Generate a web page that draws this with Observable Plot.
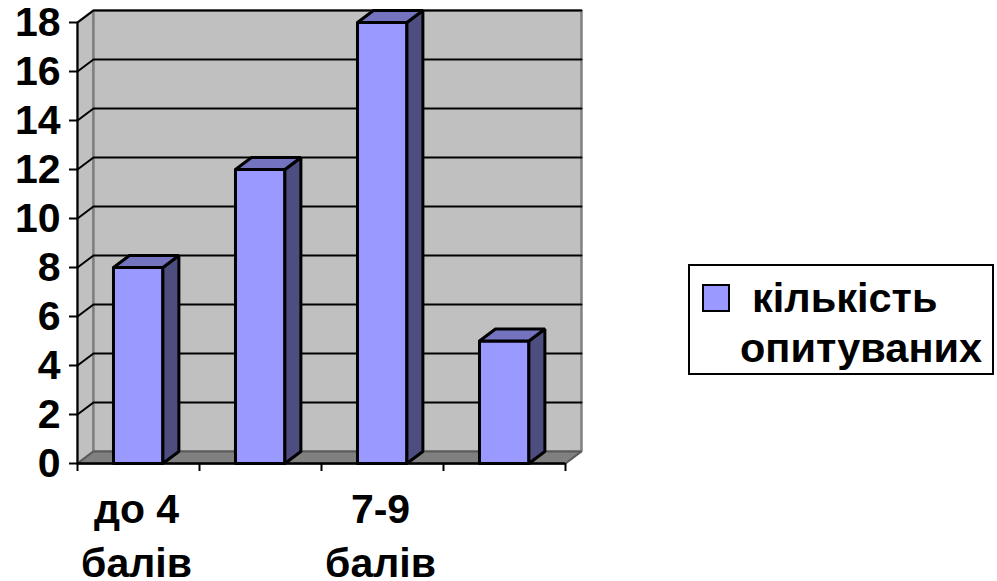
<!DOCTYPE html>
<html><head><meta charset="utf-8">
<script src="https://cdn.jsdelivr.net/npm/d3@7"></script>
<script src="https://cdn.jsdelivr.net/npm/@observablehq/plot@0.6"></script>
<style>
html,body{margin:0;padding:0;background:#fff;overflow:hidden}
#wrap{position:relative;width:997px;height:581px;font-family:"Liberation Sans",Arial,sans-serif}
#legend{position:absolute;left:688px;top:264px;width:302px;height:107px;border:2px solid #000;background:#fff;box-sizing:content-box;font-weight:700;font-size:41.5px;color:#000}
#legend i{position:absolute;left:12px;top:18px;width:24px;height:24px;background:#9999FF;border:2px solid #000}
#legend span{position:absolute;line-height:40px;white-space:nowrap}
svg{display:block}
</style></head><body>
<div id="wrap"><div id="chart"></div>
<div id="legend"><i></i><span style="left:62px;top:12px">кількість</span><span style="left:50px;top:62px">опитуваних</span></div></div>
<script>
const categories = ["до 4\nбалів", "", "7-9\nбалів", ""];
const values = [8, 12, 18, 5];
const yTicks = [0, 2, 4, 6, 8, 10, 12, 14, 16, 18];
const xEdges = [0, 1, 2, 3, 4];
const yMax = 18;
const depthX = 0.131, depthY = 0.49, barOffset = 0.295, barWidth = 0.405;

const poly = (id, pts) => pts.concat([pts[0]]).map(([x, y]) => ({id, x, y}));
const leftWall = poly("l", [[0,0],[depthX,depthY],[depthX,yMax+depthY],[0,yMax]]);
const backWall = poly("b", [[depthX,depthY],[4+depthX,depthY],[4+depthX,yMax+depthY],[depthX,yMax+depthY]]);
const floor = poly("f", [[0,0],[4,0],[4+depthX,depthY],[depthX,depthY]]);
const grid = yTicks.filter(v => v > 0).flatMap(v => [
  {id:v, x:0, y:v}, {id:v, x:depthX, y:v+depthY}, {id:v, x:4+depthX, y:v+depthY}]);

const fronts = [], sides = [], tops = [];
values.forEach((v, i) => {
  const a = i + barOffset, b = a + barWidth;
  fronts.push(...poly("a"+i, [[a,0],[b,0],[b,v],[a,v]]));
  sides.push(...poly("s"+i, [[b,0],[b+depthX,depthY],[b+depthX,v+depthY],[b,v]]));
  tops.push(...poly("t"+i, [[a,v],[b,v],[b+depthX,v+depthY],[a+depthX,v+depthY]]));
});
const face = (d, fill, stroke, strokeWidth) => Plot.line(d, {x:"x", y:"y", z:"id", fill, stroke, strokeWidth, strokeLinejoin:"miter", curve:"linear"});

const chart = Plot.plot({
  width: 997, height: 581,
  marginLeft: 77, marginRight: 432, marginTop: 22, marginBottom: 118,
  style: {fontFamily: '"Liberation Sans",Arial,sans-serif', background: "#fff", overflow: "visible"},
  x: {type: "linear", domain: [0, 4], axis: null},
  y: {domain: [0, yMax], axis: null},
  marks: [
    face(leftWall, "#C0C0C0", "#808080", 2.5),
    face(backWall, "#C0C0C0", "#808080", 2.5),
    face(floor, "#808080", "#5a5a5a", 2),
    Plot.line(grid, {x:"x", y:"y", z:"id", stroke:"#000", strokeWidth:2}),
    Plot.ruleX([0], {y1:0, y2:yMax, stroke:"#000", strokeWidth:2}),
    Plot.ruleY([0], {x1:0, x2:4, stroke:"#000", strokeWidth:2.5}),
    Plot.axisY({ticks: yTicks, tickSize: 8, tickPadding: 9, fontSize: 41, fontWeight: 700, color:"#000", strokeWidth: 2, label: null, tickFormat: d => String(d)}),
    Plot.axisX({ticks: xEdges, tickSize: 8, tickFormat: () => "", strokeWidth: 2, label: null, anchor: "bottom"}),
    face(fronts, "#9999FF", "#000", 3),
    face(sides, "#4D4D80", "#000", 3),
    face(tops, "#7373BF", "#000", 3),
    Plot.text(categories, {x:(d,i)=>i+0.5, y:0, text:d=>d, dx:-2, dy:21, lineAnchor:"top", lineHeight:1.32, fontSize:41, fontWeight:700, fill:"#000"})
  ]
});
document.getElementById("chart").append(chart);
</script></body></html>
